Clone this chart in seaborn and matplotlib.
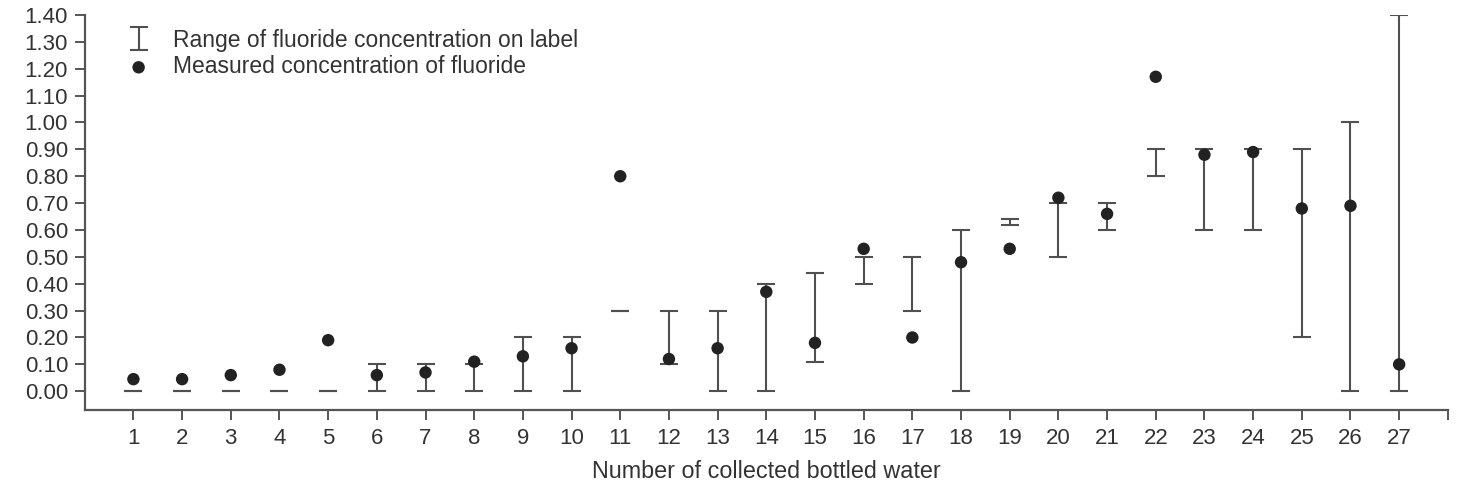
import numpy as np
import matplotlib
matplotlib.use("Agg")
import matplotlib.pyplot as plt
import seaborn as sns
import pandas as pd

# bottle number, measured fluoride, label range (low/high)
bottles = list(range(1, 28))
measured = [0.045, 0.045, 0.06, 0.08, 0.19, 0.06, 0.07, 0.11, 0.13, 0.16,
            0.80, 0.12, 0.16, 0.37, 0.18, 0.53, 0.20, 0.48, 0.53, 0.72,
            0.66, 1.17, 0.88, 0.89, 0.68, 0.69, 0.10]
label_low = [0.0, 0.0, 0.0, 0.0, 0.0, 0.0, 0.0, 0.0, 0.0, 0.0,
             0.30, 0.10, 0.0, 0.0, 0.11, 0.40, 0.30, 0.0, 0.62, 0.50,
             0.60, 0.80, 0.60, 0.60, 0.20, 0.0, 0.0]
label_high = [0.0, 0.0, 0.0, 0.0, 0.0, 0.10, 0.10, 0.10, 0.20, 0.20,
              0.30, 0.30, 0.30, 0.40, 0.44, 0.50, 0.50, 0.60, 0.64, 0.70,
              0.70, 0.90, 0.90, 0.90, 0.90, 1.00, 1.40]

df = pd.DataFrame({"bottle": bottles, "measured": measured,
                   "low": label_low, "high": label_high})
df["mid"] = (df["low"] + df["high"]) / 2
df["half"] = (df["high"] - df["low"]) / 2

sns.set_style("ticks")
plt.rcParams['font.family'] = ['Liberation Sans', 'DejaVu Sans']

fig, ax = plt.subplots(figsize=(14.61, 4.83), dpi=100)
fig.subplots_adjust(left=0.058, right=0.991, top=0.969, bottom=0.151)

line_col = "#505050"
eb = ax.errorbar(df["bottle"], df["mid"], yerr=df["half"], fmt="none",
                 ecolor=line_col, elinewidth=1.5, capsize=6.5, capthick=1.5,
                 label="Range of fluoride concentration on label", zorder=2)
sns.scatterplot(data=df, x="bottle", y="measured", ax=ax, color="#222222",
                s=80, edgecolor="none", zorder=3,
                label="Measured concentration of fluoride")

ax.set_xlim(0, 28)
ax.set_ylim(-0.07, 1.40)
ax.set_xticks(list(range(1, 29)))
ax.set_xticklabels([str(b) for b in bottles] + [""])
ax.set_yticks(np.arange(0, 1.41, 0.1))
ax.set_yticklabels([f"{v:.2f}" for v in np.arange(0, 1.41, 0.1)])
ax.set_xlabel("Number of collected bottled water", fontsize=16.8, color="#333333", labelpad=8)
ax.set_ylabel("")

for side in ("left", "bottom"):
    ax.spines[side].set_color("#555555")
    ax.spines[side].set_linewidth(1.6)
sns.despine(ax=ax)
ax.tick_params(axis="both", labelsize=16, colors="#555555", labelcolor="#333333",
               length=7, width=1.4)
ax.tick_params(axis="y", pad=5)
ax.tick_params(axis="x", pad=6)

leg = ax.legend(handles=[eb, ax.collections[-1]],
                labels=["Range of fluoride concentration on label",
                        "Measured concentration of fluoride"],
                loc="upper left", bbox_to_anchor=(0.016, 1.017), frameon=False,
                fontsize=16.5, handlelength=1.0, handletextpad=1.0,
                labelspacing=0.15)
for t in leg.get_texts():
    t.set_color("#333333")

fig.savefig("out.png", dpi=100)
